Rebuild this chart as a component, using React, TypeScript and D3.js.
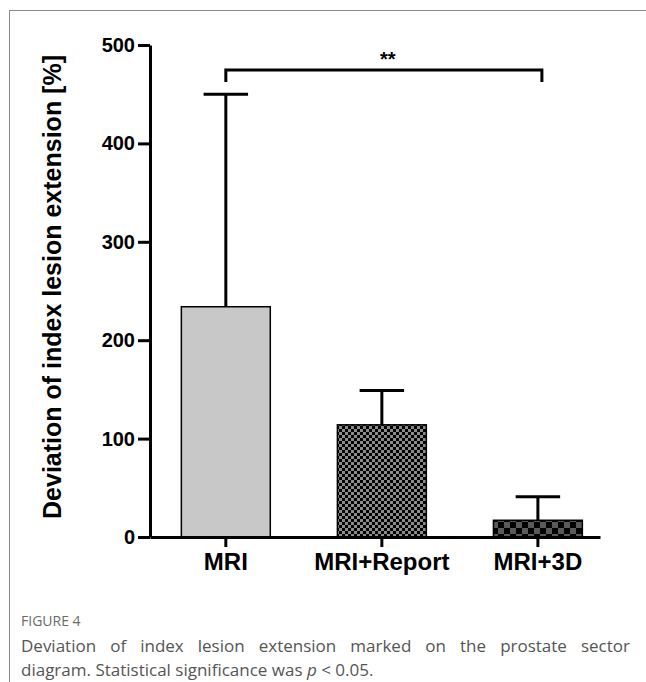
import React, { useEffect, useRef } from "react";
import * as d3 from "d3";

// values
const categories = ["MRI", "MRI+Report", "MRI+3D"];
const means = [234, 114, 17];
const errors = [216, 35, 24]; // upper error (SD)
const yTicks = [0, 100, 200, 300, 400, 500];
const fills = ["#c8c8c8", "url(#checkFine)", "url(#checkCoarse)"];

const App = () => {
  const ref = useRef<SVGSVGElement | null>(null);

  useEffect(() => {
    const svg = d3.select(ref.current);
    svg.selectAll("*").remove();

    const font = "'Liberation Sans', Arial, sans-serif";

    // panel frame (left + top)
    svg.append("line")
      .attr("x1", 9.5).attr("x2", 9.5).attr("y1", 10).attr("y2", 682)
      .attr("stroke", "#8a8a8a").attr("stroke-width", 1);
    svg.append("line")
      .attr("x1", 9).attr("x2", 646).attr("y1", 10.5).attr("y2", 10.5)
      .attr("stroke", "#8a8a8a").attr("stroke-width", 1);

    // checker patterns
    const defs = svg.append("defs");
    const fine = defs.append("pattern")
      .attr("id", "checkFine").attr("patternUnits", "userSpaceOnUse")
      .attr("width", 6).attr("height", 6);
    fine.append("rect").attr("width", 6).attr("height", 6).attr("fill", "#8c8c8c");
    fine.append("rect").attr("width", 3).attr("height", 3).attr("fill", "#000");
    fine.append("rect").attr("x", 3).attr("y", 3).attr("width", 3).attr("height", 3).attr("fill", "#000");

    const coarse = defs.append("pattern")
      .attr("id", "checkCoarse").attr("patternUnits", "userSpaceOnUse")
      .attr("width", 12).attr("height", 12);
    coarse.append("rect").attr("width", 12).attr("height", 12).attr("fill", "#5a5a5a");
    coarse.append("rect").attr("width", 6).attr("height", 6).attr("fill", "#000");
    coarse.append("rect").attr("x", 6).attr("y", 6).attr("width", 6).attr("height", 6).attr("fill", "#000");

    // scales
    const y = d3.scaleLinear().domain([0, 500]).range([537, 45]);
    const x = d3.scaleBand()
      .domain(categories)
      .range([150, 600])
      .paddingInner(0.43)
      .paddingOuter(0.157)
      .align(0.64);

    const data = categories.map((c, i) => ({ cat: c, mean: means[i], err: errors[i], fill: fills[i] }));

    // bars
    svg.append("g")
      .selectAll("rect")
      .data(data)
      .enter()
      .append("rect")
      .attr("x", d => x(d.cat)!)
      .attr("y", d => y(d.mean))
      .attr("width", x.bandwidth())
      .attr("height", d => y(0) - y(d.mean))
      .attr("fill", d => d.fill)
      .attr("stroke", "#000")
      .attr("stroke-width", 1.5);

    // error bars
    const eb = svg.append("g").attr("stroke", "#000").attr("stroke-width", 3);
    data.forEach(d => {
      const cx = x(d.cat)! + x.bandwidth() / 2;
      eb.append("line")
        .attr("x1", cx).attr("x2", cx)
        .attr("y1", y(d.mean)).attr("y2", y(d.mean + d.err));
      eb.append("line")
        .attr("x1", cx - x.bandwidth() / 4).attr("x2", cx + x.bandwidth() / 4)
        .attr("y1", y(d.mean + d.err)).attr("y2", y(d.mean + d.err));
    });

    // Y axis
    const yAxis = svg.append("g")
      .attr("transform", "translate(150,0)")
      .call(d3.axisLeft(y).tickValues(yTicks).tickSize(12).tickSizeOuter(0).tickPadding(3));
    yAxis.select(".domain").attr("stroke-width", 3);
    yAxis.selectAll(".tick line").attr("stroke-width", 3);
    yAxis.selectAll(".tick text")
      .attr("font-family", font).attr("font-weight", "bold").attr("font-size", 20)
      .attr("fill", "#000");

    // X axis
    const xAxis = svg.append("g")
      .attr("transform", `translate(0,${y(0)})`)
      .call(d3.axisBottom(x).tickSize(10).tickSizeOuter(0).tickPadding(6));
    xAxis.select(".domain").attr("stroke-width", 3);
    xAxis.selectAll(".tick line").attr("stroke-width", 3);
    xAxis.selectAll(".tick text")
      .attr("font-family", font).attr("font-weight", "bold").attr("font-size", 24)
      .attr("fill", "#000");

    // Y label
    svg.append("text")
      .attr("transform", `translate(61,${(y(0) + y(500)) / 2 - 4}) rotate(-90)`)
      .style("text-anchor", "middle")
      .attr("font-family", font).attr("font-weight", "bold").attr("font-size", 25)
      .text("Deviation of index lesion extension [%]");

    // significance bracket between MRI and MRI+3D
    const x1 = x("MRI")! + x.bandwidth() / 2;
    const x2 = x("MRI+3D")! + x.bandwidth() / 2 + 4;
    const by = 70;
    svg.append("path")
      .attr("d", `M${x1},${by + 12}V${by}H${x2}V${by + 12}`)
      .attr("fill", "none").attr("stroke", "#000").attr("stroke-width", 3);
    svg.append("text")
      .attr("x", (x1 + x2) / 2 + 4).attr("y", by - 4)
      .style("text-anchor", "middle")
      .attr("font-family", font).attr("font-weight", "bold").attr("font-size", 20)
      .text("**");
  }, []);

  return (
    <div style={{ position: "absolute", left: 0, top: 0, width: 646, height: 682, background: "#fff" }}>
      <svg ref={ref} width={646} height={682} style={{ position: "absolute", left: 0, top: 0 }} />
      <div
        style={{
          position: "absolute", left: 21, top: 610, width: 609,
          fontFamily: "'Open Sans', 'Noto Sans', sans-serif", color: "#555",
        }}
      >
        <div style={{ fontSize: 14, color: "#6a6a6a", lineHeight: "22px", marginBottom: 2 }}>FIGURE 4</div>
        <div style={{ fontSize: 17, lineHeight: "24px", textAlign: "justify", textAlignLast: "justify" }}>
          Deviation of index lesion extension marked on the prostate sector
        </div>
        <div style={{ fontSize: 17, lineHeight: "24px" }}>
          diagram. Statistical significance was <i>p</i> &lt; 0.05.
        </div>
      </div>
    </div>
  );
};

export default App;
